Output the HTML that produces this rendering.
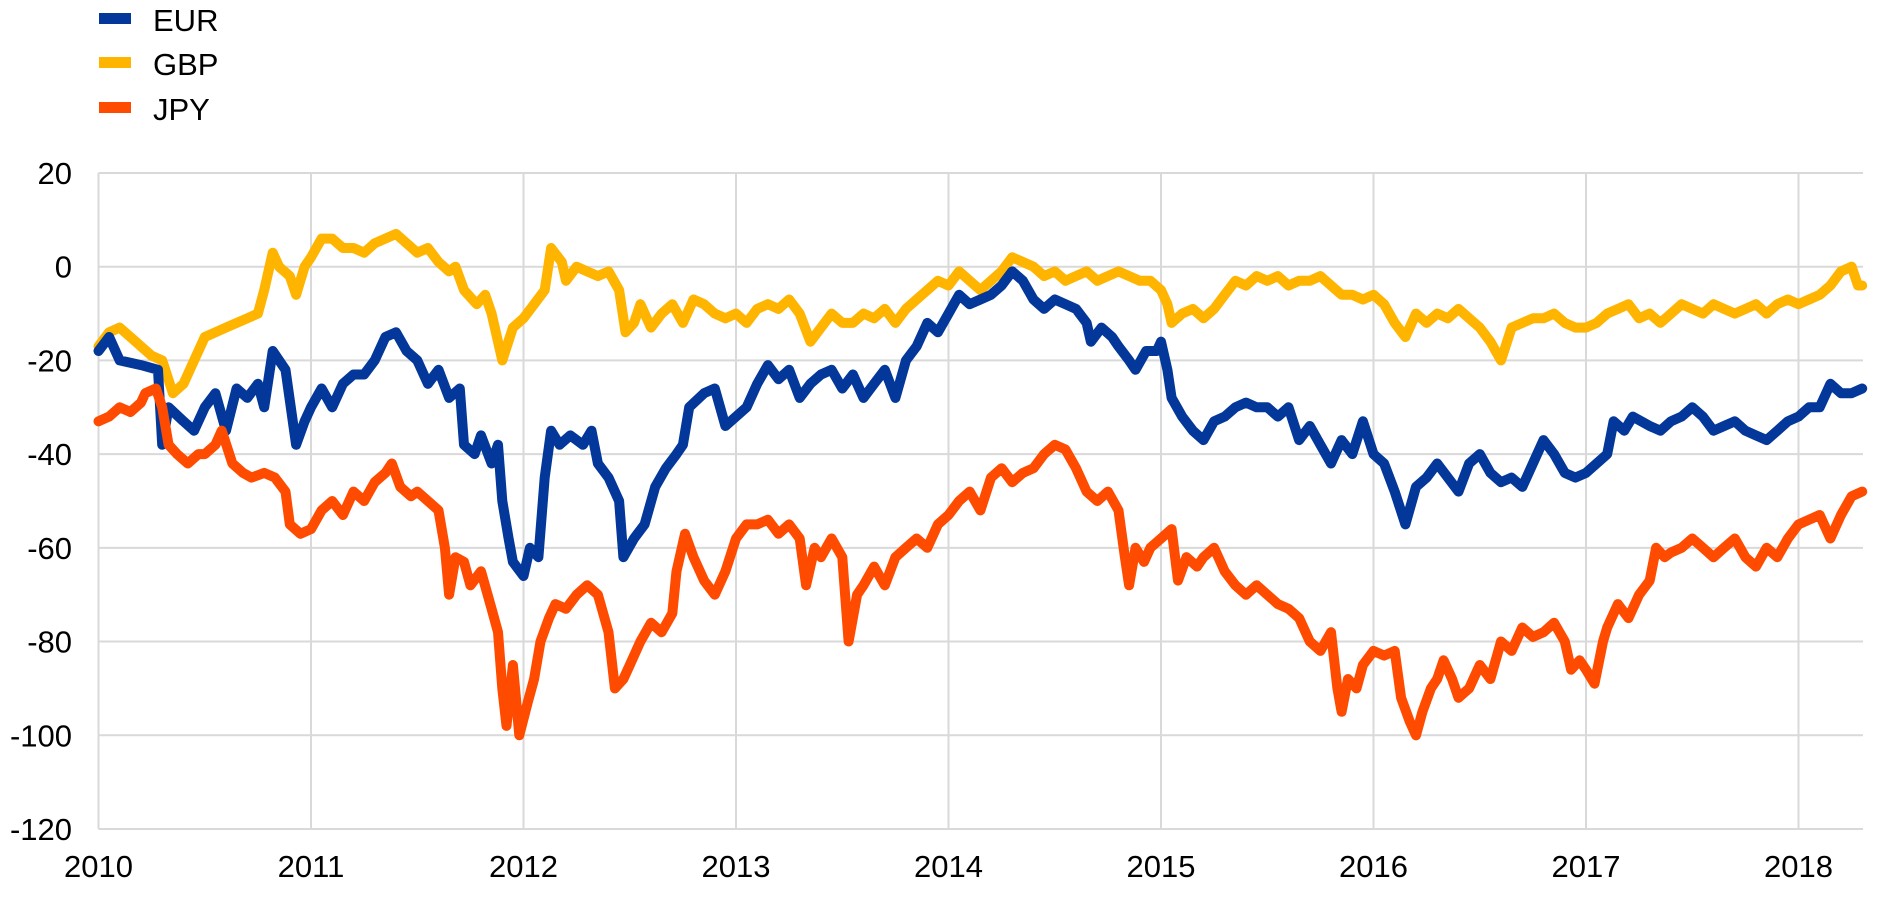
<!DOCTYPE html>
<html><head><meta charset="utf-8"><style>
html,body{margin:0;padding:0;background:#fff;}
svg{display:block;font-family:"Liberation Sans",Arial,sans-serif;}
</style></head><body>
<svg id="c" width="1890" height="898" viewBox="0 0 1890 898" xmlns="http://www.w3.org/2000/svg">
<g id="grid" stroke="#d9d9d9" stroke-width="2" fill="none"></g>
<g id="lab" font-size="31" fill="#000"></g>
<g id="ser" fill="none" stroke-width="10" stroke-linejoin="round" stroke-linecap="round"></g>
<g font-size="31" fill="#000">
<rect x="99" y="13" width="32" height="11" fill="#033799"/><text x="153" y="31">EUR</text>
<rect x="99" y="57" width="32" height="11" fill="#ffb400"/><text x="153" y="75">GBP</text>
<rect x="99" y="102" width="32" height="11" fill="#ff4b00"/><text x="153" y="120">JPY</text>
</g>
</svg>
<script>
var X0=98.5,YW=212.5,Y20=173,U=93.71/20;
function px(t){return X0+(t-2010)*YW;}
function py(v){return Y20+(20-v)*U;}
var NS="http://www.w3.org/2000/svg";
var g=document.getElementById('grid'),lab=document.getElementById('lab');
function el(p,n,a,t){var e=document.createElementNS(NS,n);for(var k in a)e.setAttribute(k,a[k]);if(t)e.textContent=t;p.appendChild(e);}
for(var v=20;v>=-120;v-=20){el(g,'line',{x1:X0,x2:1863,y1:py(v),y2:py(v)});el(lab,'text',{x:72,y:py(v)+11,'text-anchor':'end'},String(v));}
for(var y=2010;y<=2018;y++){el(g,'line',{x1:px(y),x2:px(y),y1:Y20,y2:829});el(lab,'text',{x:px(y),y:877,'text-anchor':'middle'},String(y));}
var EUR=[2010.0,-18,2010.05,-15,2010.1,-20,2010.2,-21,2010.28,-22,2010.3,-38,2010.33,-30,2010.4,-33,2010.45,-35,2010.5,-30,2010.55,-27,2010.6,-35,2010.65,-26,2010.7,-28,2010.75,-25,2010.78,-30,2010.82,-18,2010.88,-22,2010.93,-38,2010.97,-33,2011.0,-30,2011.05,-26,2011.1,-30,2011.15,-25,2011.2,-23,2011.25,-23,2011.3,-20,2011.35,-15,2011.4,-14,2011.45,-18,2011.5,-20,2011.55,-25,2011.6,-22,2011.65,-28,2011.7,-26,2011.72,-38,2011.77,-40,2011.8,-36,2011.85,-42,2011.88,-38,2011.9,-50,2011.93,-58,2011.95,-63,2012.0,-66,2012.03,-60,2012.07,-62,2012.1,-45,2012.13,-35,2012.17,-38,2012.22,-36,2012.28,-38,2012.32,-35,2012.35,-42,2012.4,-45,2012.45,-50,2012.47,-62,2012.52,-58,2012.57,-55,2012.62,-47,2012.67,-43,2012.72,-40,2012.75,-38,2012.78,-30,2012.85,-27,2012.9,-26,2012.95,-34,2013.0,-32,2013.05,-30,2013.1,-25,2013.15,-21,2013.2,-24,2013.25,-22,2013.3,-28,2013.35,-25,2013.4,-23,2013.45,-22,2013.5,-26,2013.55,-23,2013.6,-28,2013.65,-25,2013.7,-22,2013.75,-28,2013.8,-20,2013.85,-17,2013.9,-12,2013.95,-14,2014.0,-10,2014.05,-6,2014.1,-8,2014.15,-7,2014.2,-6,2014.25,-4,2014.3,-1,2014.35,-3,2014.4,-7,2014.45,-9,2014.5,-7,2014.55,-8,2014.6,-9,2014.65,-12,2014.67,-16,2014.72,-13,2014.77,-15,2014.8,-17,2014.85,-20,2014.88,-22,2014.93,-18,2014.98,-18,2015.0,-16,2015.03,-22,2015.05,-28,2015.1,-32,2015.15,-35,2015.2,-37,2015.25,-33,2015.3,-32,2015.35,-30,2015.4,-29,2015.45,-30,2015.5,-30,2015.55,-32,2015.6,-30,2015.65,-37,2015.7,-34,2015.75,-38,2015.8,-42,2015.85,-37,2015.9,-40,2015.95,-33,2016.0,-40,2016.05,-42,2016.1,-48,2016.15,-55,2016.2,-47,2016.25,-45,2016.3,-42,2016.35,-45,2016.4,-48,2016.45,-42,2016.5,-40,2016.55,-44,2016.6,-46,2016.65,-45,2016.7,-47,2016.75,-42,2016.8,-37,2016.85,-40,2016.9,-44,2016.95,-45,2017.0,-44,2017.05,-42,2017.1,-40,2017.13,-33,2017.18,-35,2017.22,-32,2017.3,-34,2017.35,-35,2017.4,-33,2017.45,-32,2017.5,-30,2017.55,-32,2017.6,-35,2017.65,-34,2017.7,-33,2017.75,-35,2017.8,-36,2017.85,-37,2017.9,-35,2017.95,-33,2018.0,-32,2018.05,-30,2018.1,-30,2018.15,-25,2018.2,-27,2018.25,-27,2018.3,-26];
var GBP=[2010.0,-17,2010.05,-14,2010.1,-13,2010.15,-15,2010.2,-17,2010.25,-19,2010.3,-20,2010.35,-27,2010.4,-25,2010.45,-20,2010.5,-15,2010.55,-14,2010.6,-13,2010.65,-12,2010.7,-11,2010.75,-10,2010.78,-5,2010.82,3,2010.85,0,2010.9,-2,2010.93,-6,2010.97,0,2011.0,2,2011.05,6,2011.1,6,2011.15,4,2011.2,4,2011.25,3,2011.3,5,2011.35,6,2011.4,7,2011.45,5,2011.5,3,2011.55,4,2011.6,1,2011.65,-1,2011.68,0,2011.72,-5,2011.78,-8,2011.82,-6,2011.85,-10,2011.9,-20,2011.95,-13,2012.0,-11,2012.05,-8,2012.1,-5,2012.13,4,2012.18,1,2012.2,-3,2012.25,0,2012.3,-1,2012.35,-2,2012.4,-1,2012.45,-5,2012.48,-14,2012.52,-12,2012.55,-8,2012.6,-13,2012.65,-10,2012.7,-8,2012.75,-12,2012.8,-7,2012.85,-8,2012.9,-10,2012.95,-11,2013.0,-10,2013.05,-12,2013.1,-9,2013.15,-8,2013.2,-9,2013.25,-7,2013.3,-10,2013.35,-16,2013.4,-13,2013.45,-10,2013.5,-12,2013.55,-12,2013.6,-10,2013.65,-11,2013.7,-9,2013.75,-12,2013.8,-9,2013.85,-7,2013.9,-5,2013.95,-3,2014.0,-4,2014.05,-1,2014.1,-3,2014.15,-5,2014.2,-3,2014.25,-1,2014.3,2,2014.35,1,2014.4,0,2014.45,-2,2014.5,-1,2014.55,-3,2014.6,-2,2014.65,-1,2014.7,-3,2014.75,-2,2014.8,-1,2014.85,-2,2014.9,-3,2014.95,-3,2015.0,-5,2015.03,-8,2015.05,-12,2015.1,-10,2015.15,-9,2015.2,-11,2015.25,-9,2015.3,-6,2015.35,-3,2015.4,-4,2015.45,-2,2015.5,-3,2015.55,-2,2015.6,-4,2015.65,-3,2015.7,-3,2015.75,-2,2015.8,-4,2015.85,-6,2015.9,-6,2015.95,-7,2016.0,-6,2016.05,-8,2016.1,-12,2016.15,-15,2016.2,-10,2016.25,-12,2016.3,-10,2016.35,-11,2016.4,-9,2016.45,-11,2016.5,-13,2016.55,-16,2016.6,-20,2016.65,-13,2016.7,-12,2016.75,-11,2016.8,-11,2016.85,-10,2016.9,-12,2016.95,-13,2017.0,-13,2017.05,-12,2017.1,-10,2017.15,-9,2017.2,-8,2017.25,-11,2017.3,-10,2017.35,-12,2017.4,-10,2017.45,-8,2017.5,-9,2017.55,-10,2017.6,-8,2017.65,-9,2017.7,-10,2017.75,-9,2017.8,-8,2017.85,-10,2017.9,-8,2017.95,-7,2018.0,-8,2018.05,-7,2018.1,-6,2018.15,-4,2018.2,-1,2018.25,0,2018.28,-4,2018.3,-4];
var JPY=[2010.0,-33,2010.05,-32,2010.1,-30,2010.15,-31,2010.2,-29,2010.22,-27,2010.27,-26,2010.3,-30,2010.33,-38,2010.37,-40,2010.42,-42,2010.47,-40,2010.5,-40,2010.55,-38,2010.58,-35,2010.63,-42,2010.68,-44,2010.72,-45,2010.78,-44,2010.83,-45,2010.88,-48,2010.9,-55,2010.95,-57,2011.0,-56,2011.05,-52,2011.1,-50,2011.15,-53,2011.2,-48,2011.25,-50,2011.3,-46,2011.35,-44,2011.38,-42,2011.42,-47,2011.47,-49,2011.5,-48,2011.55,-50,2011.6,-52,2011.63,-60,2011.65,-70,2011.68,-62,2011.72,-63,2011.75,-68,2011.8,-65,2011.85,-73,2011.88,-78,2011.9,-90,2011.92,-98,2011.95,-85,2011.98,-100,2012.02,-93,2012.05,-88,2012.08,-80,2012.12,-75,2012.15,-72,2012.2,-73,2012.25,-70,2012.3,-68,2012.35,-70,2012.4,-78,2012.43,-90,2012.47,-88,2012.5,-85,2012.55,-80,2012.6,-76,2012.65,-78,2012.7,-74,2012.72,-65,2012.76,-57,2012.8,-62,2012.85,-67,2012.9,-70,2012.95,-65,2013.0,-58,2013.05,-55,2013.1,-55,2013.15,-54,2013.2,-57,2013.25,-55,2013.3,-58,2013.33,-68,2013.37,-60,2013.4,-62,2013.45,-58,2013.5,-62,2013.53,-80,2013.57,-70,2013.6,-68,2013.65,-64,2013.7,-68,2013.75,-62,2013.8,-60,2013.85,-58,2013.9,-60,2013.95,-55,2014.0,-53,2014.05,-50,2014.1,-48,2014.15,-52,2014.2,-45,2014.25,-43,2014.3,-46,2014.35,-44,2014.4,-43,2014.45,-40,2014.5,-38,2014.55,-39,2014.6,-43,2014.65,-48,2014.7,-50,2014.75,-48,2014.8,-52,2014.83,-62,2014.85,-68,2014.88,-60,2014.92,-63,2014.95,-60,2015.0,-58,2015.05,-56,2015.08,-67,2015.12,-62,2015.17,-64,2015.2,-62,2015.25,-60,2015.3,-65,2015.35,-68,2015.4,-70,2015.45,-68,2015.5,-70,2015.55,-72,2015.6,-73,2015.65,-75,2015.7,-80,2015.75,-82,2015.8,-78,2015.83,-90,2015.85,-95,2015.88,-88,2015.92,-90,2015.95,-85,2016.0,-82,2016.05,-83,2016.1,-82,2016.13,-92,2016.17,-97,2016.2,-100,2016.23,-95,2016.27,-90,2016.3,-88,2016.33,-84,2016.37,-88,2016.4,-92,2016.45,-90,2016.5,-85,2016.55,-88,2016.6,-80,2016.65,-82,2016.7,-77,2016.75,-79,2016.8,-78,2016.85,-76,2016.9,-80,2016.93,-86,2016.97,-84,2017.0,-86,2017.04,-89,2017.08,-80,2017.1,-77,2017.15,-72,2017.2,-75,2017.25,-70,2017.3,-67,2017.33,-60,2017.37,-62,2017.4,-61,2017.45,-60,2017.5,-58,2017.55,-60,2017.6,-62,2017.65,-60,2017.7,-58,2017.75,-62,2017.8,-64,2017.85,-60,2017.9,-62,2017.95,-58,2018.0,-55,2018.05,-54,2018.1,-53,2018.15,-58,2018.2,-53,2018.25,-49,2018.3,-48];
var s=document.getElementById('ser');
function line(d,c){var p=[];for(var i=0;i<d.length;i+=2)p.push(px(d[i]).toFixed(1)+','+py(d[i+1]).toFixed(1));el(s,'polyline',{points:p.join(' '),stroke:c});}
line(GBP,'#ffb400');line(EUR,'#033799');line(JPY,'#ff4b00');
</script>
</body></html>
